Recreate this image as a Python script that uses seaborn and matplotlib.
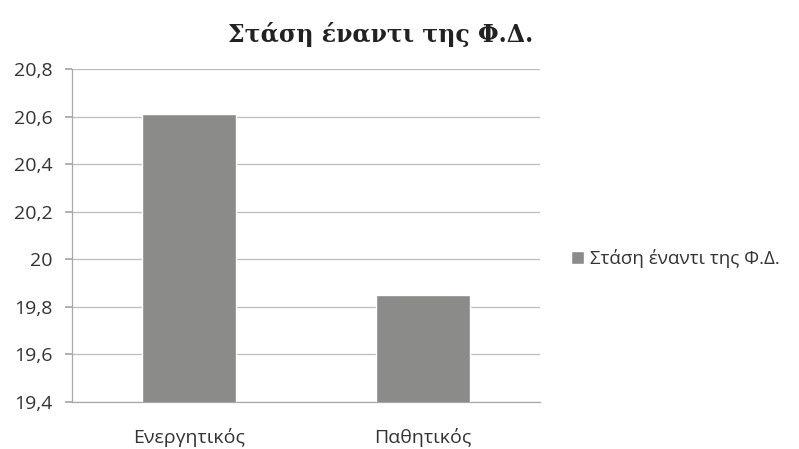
import matplotlib
matplotlib.use("Agg")
import matplotlib.pyplot as plt
import seaborn as sns
import pandas as pd

categories = ["Ενεργητικός", "Παθητικός"]
values = [20.61, 19.85]
series_name = "Στάση έναντι της Φ.Δ."
title = "Στάση έναντι της Φ.Δ."
yticks = [19.4, 19.6, 19.8, 20.0, 20.2, 20.4, 20.6, 20.8]
ytick_labels = ["19,4", "19,6", "19,8", "20", "20,2", "20,4", "20,6", "20,8"]

sns.set_theme(style="white")
plt.rcParams["font.family"] = ["Open Sans", "DejaVu Sans"]

df = pd.DataFrame({"cat": categories, "val": values})

fig = plt.figure(figsize=(7.99, 4.49), dpi=100)
ax = fig.add_axes([0.090, 0.105, 0.586, 0.741])

sns.barplot(data=df, x="cat", y="val", color="#8b8c8a", saturation=1,
            width=0.4, label=series_name, ax=ax, zorder=3)

ax.set_ylim(19.4, 20.8)
ax.set_xlim(-0.5, 1.5)
ax.set_yticks(yticks)
ax.set_yticklabels(ytick_labels)
ax.set_xlabel("")
ax.set_ylabel("")
ax.grid(axis="y", color="#bdbdbd", linewidth=0.9, zorder=0)
ax.set_axisbelow(True)
for s in ["top", "right"]:
    ax.spines[s].set_visible(False)
for s in ["left", "bottom"]:
    ax.spines[s].set_color("#a8a8a8")
    ax.spines[s].set_linewidth(0.9)
ax.tick_params(axis="y", which="major", left=True, length=5, color="#a8a8a8",
               labelsize=14, labelcolor="#333333", pad=9)
ax.tick_params(axis="x", bottom=False, labelsize=14, labelcolor="#333333", pad=13)

fig.suptitle(title, x=0.477, y=0.95, fontsize=17, fontweight="bold",
             family=["DejaVu Serif"], color="#222222")

ax.legend(loc="center left", bbox_to_anchor=(1.03, 0.43), frameon=False,
          fontsize=13.5, handlelength=0.7, handleheight=0.7, handletextpad=0.3,
          labelcolor="#333333")

fig.savefig("out.png", dpi=100)
